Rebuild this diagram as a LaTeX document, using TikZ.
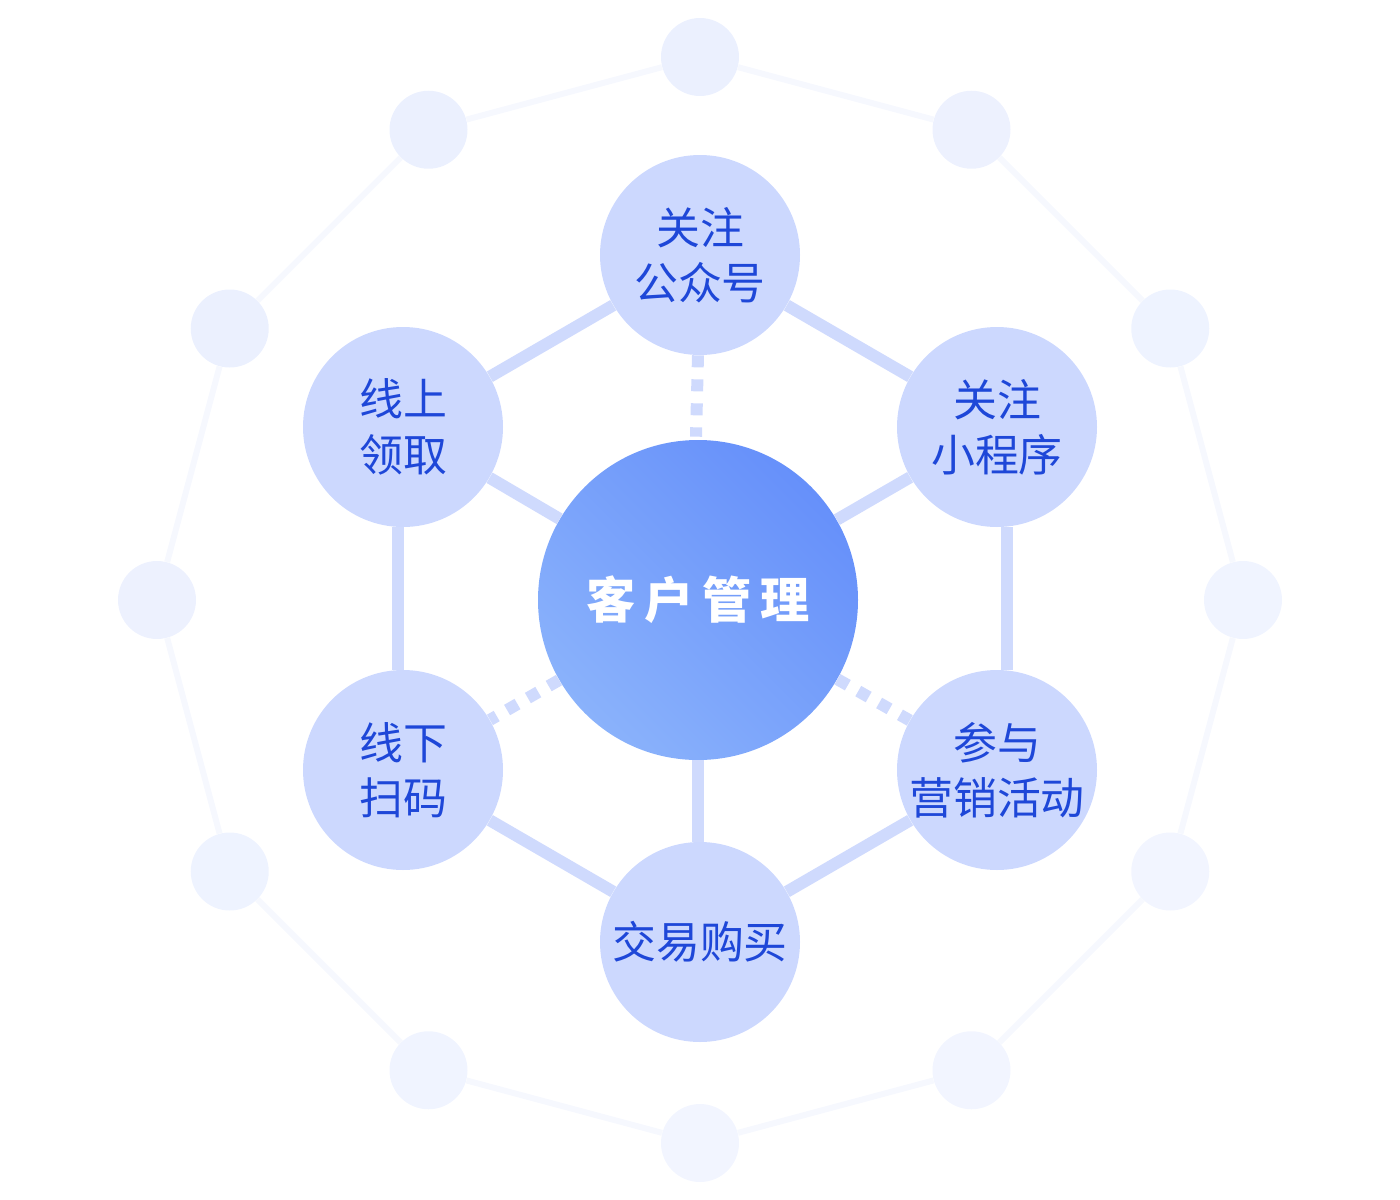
\documentclass[tikz,border=0pt]{standalone}
\usepackage{fontspec}
\setmainfont{Noto Sans CJK SC}
\usetikzlibrary{calc}
\definecolor{hexfill}{HTML}{CCD8FE}
\definecolor{hexline}{HTML}{CFDAFD}
\definecolor{ringA}{HTML}{EBF0FE}
\definecolor{ringB}{HTML}{F2F5FF}
\definecolor{ringline}{HTML}{F6F8FE}
\definecolor{txt}{HTML}{1E47D8}
\definecolor{cdark}{HTML}{6690FA}
\definecolor{clight}{HTML}{8AB2FB}
\tikzset{
  px/.style={x=0.02cm,y=-0.02cm},
  hexnode/.style={circle,fill=hexfill,minimum size=200*0.02cm,inner sep=0pt,text=txt,align=center,font=\fontsize{25}{31.5}\selectfont},
  ringnode/.style={circle,minimum size=78*0.02cm,inner sep=0pt},
  hexlink/.style={draw=hexline,line width=12*0.02cm},
  dotlink/.style={draw=hexline,line width=12*0.02cm,dash pattern=on 12*0.02cm off 12*0.02cm},
  ringlink/.style={draw=ringline,line width=6*0.02cm},
}
\begin{document}
\begin{tikzpicture}[px]
\useasboundingbox (0,0) rectangle (1400,1200);
% outer ring
\foreach \i in {0,...,11}{
  \pgfmathsetmacro{\ang}{90-30*\i}
  \pgfmathsetmacro{\mix}{int(50+50*sin(\i*30-60))}
  \node[ringnode,fill=ringB!\mix!ringA] (r\i) at ($(700,600)+(\ang:543 and -543)$) {};
}
\foreach \i [evaluate=\i as \j using {int(mod(\i+1,12))}] in {0,...,11}{
  \draw[ringlink] (r\i) -- (r\j);
}
% hexagon nodes
\node[hexnode] (top) at (700,255) {关注\\公众号};
\node[hexnode] (ur) at (997,427) {关注\\小程序};
\node[hexnode] (lr) at (997,770) {参与\\营销活动};
\node[hexnode] (bot) at (700,942) {交易购买};
\node[hexnode] (ll) at (403,770) {线下\\扫码};
\node[hexnode] (ul) at (403,427) {线上\\领取};
% center
\shade[top color=cdark,bottom color=clight,shading angle=-45] (698,600) circle (160);
\node[circle,minimum size=320*0.02cm,inner sep=0pt,text=white] (c) at (698,600)
  {\fontsize{28}{34}\selectfont\bfseries 客\hspace{5pt}户\hspace{5pt}管\hspace{5pt}理};
% hexagon links
\path[hexlink] (top) -- (ul);
\path[hexlink] (top) -- (ur);
\path[hexlink] ([xshift=-5*0.02cm]ul.south) -- ([xshift=-5*0.02cm]ll.north);
\path[hexlink] ([xshift=10*0.02cm]ur.south) -- ([xshift=10*0.02cm]lr.north);
\path[hexlink] (ll) -- (bot);
\path[hexlink] (lr) -- (bot);
% spokes
\path[hexlink] (c) -- (ul);
\path[hexlink] (c) -- (ur);
\path[hexlink] (c.south) -- ([xshift=-2*0.02cm]bot.north);
\path[dotlink] ([xshift=-2*0.02cm]top.south) -- ([xshift=-2*0.02cm,yshift=3*0.02cm]c.north);
\path[dotlink] (c) -- (ll);
\path[dotlink] (c) -- (lr);
\end{tikzpicture}
\end{document}
